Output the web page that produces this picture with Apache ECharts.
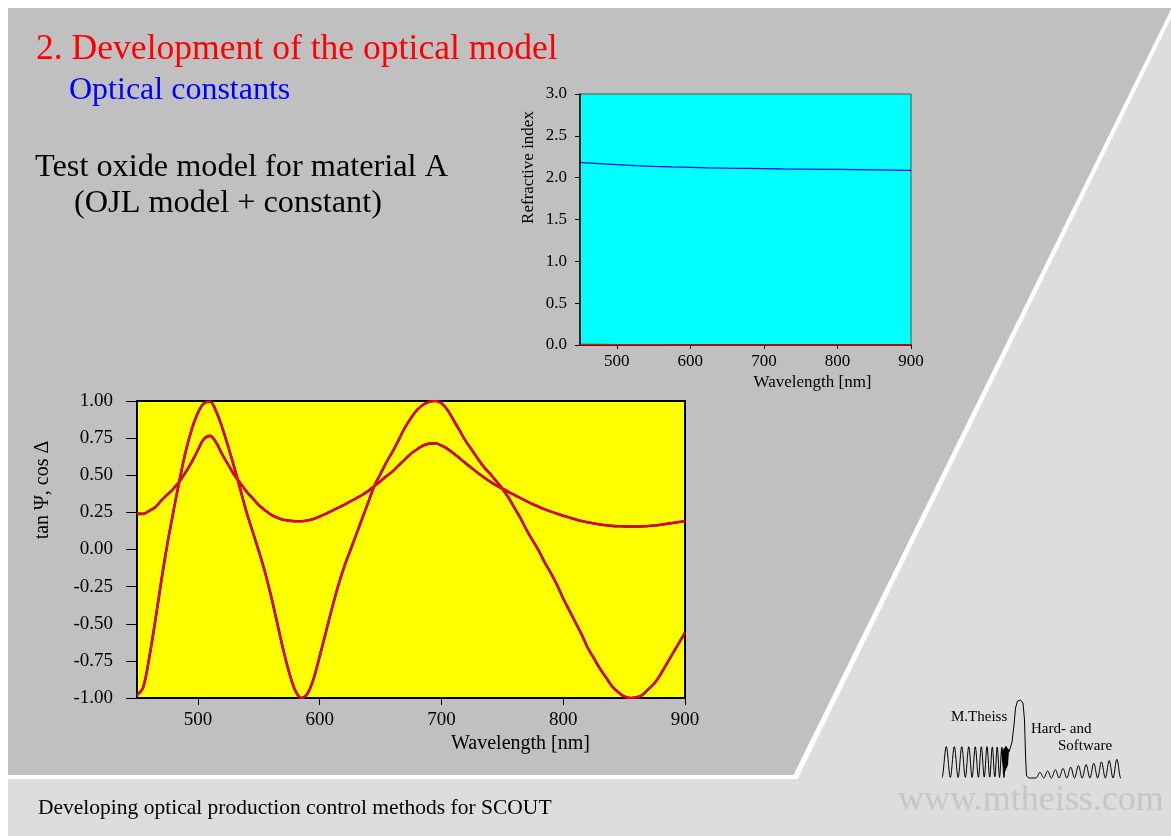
<!DOCTYPE html>
<html>
<head>
<meta charset="utf-8">
<script src="https://cdn.jsdelivr.net/npm/echarts@6/dist/echarts.min.js"></script>
<style>
  html, body { margin: 0; padding: 0; background: #ffffff; }
  #page { position: relative; width: 1171px; height: 836px; overflow: hidden; }
  .layer { position: absolute; left: 0; top: 0; width: 1171px; height: 836px; }
  #light { left: 8px; top: 8px; width: 1163px; height: 828px; background: #dddddd; }
  #band { background: #ffffff; clip-path: polygon(8px 8px, 1176px 8px, 797.5px 779px, 8px 779px); }
  #dark { background: #c0c0c0; clip-path: polygon(8px 8px, 1171.6px 8px, 793.5px 775px, 8px 775px); }
  #chart { position: absolute; left: 0; top: 0; width: 1171px; height: 836px; }
</style>
</head>
<body>
<div id="page">
  <div id="light" class="layer"></div>
  <div id="band" class="layer"></div>
  <div id="dark" class="layer"></div>
  <div id="chart"></div>
</div>
<script>
// ---- Optical constants of material A (OJL model + constant) ----
const nWavelengths = [450, 475, 500, 525, 550, 575, 600, 625, 650, 675, 700, 725, 750, 775, 800, 825, 850, 875, 900];
const refractiveIndex = [2.183, 2.169, 2.155, 2.145, 2.136, 2.129, 2.123, 2.117, 2.113, 2.111, 2.109, 2.105, 2.102, 2.100, 2.099, 2.096, 2.093, 2.090, 2.087];
const extinctionK = [0.006, 0.005, 0.004, 0.003, 0.002, 0.001, 0, 0, 0, 0, 0, 0, 0, 0, 0, 0, 0, 0, 0];
const nAxisLabels = [500, 600, 700, 800, 900];

// ---- Ellipsometric spectra: tan Psi and cos Delta, 450 ... 900 nm in 5 nm steps ----
const spectrumStart = 450, spectrumStep = 5;
const tanPsi = [
  0.24, 0.24, 0.26, 0.285, 0.33, 0.37, 0.41, 0.46, 0.52, 0.59,
  0.67, 0.745, 0.765, 0.72, 0.64, 0.57, 0.50, 0.445, 0.39, 0.345,
  0.30, 0.265, 0.235, 0.215, 0.20, 0.195, 0.19, 0.19, 0.195, 0.205,
  0.222, 0.24, 0.26, 0.28, 0.30, 0.323, 0.345, 0.368, 0.395, 0.428,
  0.46, 0.495, 0.527, 0.567, 0.607, 0.645, 0.675, 0.70, 0.713, 0.715,
  0.70, 0.678, 0.648, 0.614, 0.58, 0.547, 0.515, 0.485, 0.457, 0.432,
  0.41, 0.388, 0.367, 0.346, 0.325, 0.305, 0.287, 0.27, 0.255, 0.241,
  0.228, 0.215, 0.203, 0.192, 0.183, 0.175, 0.168, 0.163, 0.159, 0.157,
  0.156, 0.155, 0.155, 0.156, 0.158, 0.162, 0.167, 0.173, 0.179, 0.185,
  0.191
];
const cosDelta = [
  -0.98, -0.93, -0.73, -0.48, -0.21, 0.04, 0.26, 0.47, 0.66, 0.81,
  0.92, 0.985, 0.995, 0.93, 0.82, 0.69, 0.55, 0.40, 0.25, 0.12,
  -0.01, -0.15, -0.31, -0.49, -0.67, -0.83, -0.95, -1.0, -0.97, -0.87,
  -0.72, -0.56, -0.40, -0.25, -0.12, -0.01, 0.10, 0.21, 0.32, 0.43,
  0.51, 0.59, 0.66, 0.74, 0.82, 0.885, 0.94, 0.975, 0.995, 1.0,
  0.985, 0.94, 0.87, 0.80, 0.73, 0.67, 0.61, 0.555, 0.51, 0.46,
  0.41, 0.35, 0.28, 0.21, 0.13, 0.06, -0.01, -0.09, -0.16, -0.24,
  -0.33, -0.41, -0.49, -0.57, -0.66, -0.73, -0.80, -0.86, -0.92, -0.96,
  -0.99, -1.0, -0.995, -0.98, -0.94, -0.90, -0.84, -0.77, -0.70, -0.63,
  -0.56
];
const spectrumAxisLabels = [500, 600, 700, 800, 900];

const SERIF = '"Liberation Serif", "Times New Roman", "DejaVu Serif", serif';

function pairs(xs, ys) { return ys.map((v, i) => [xs[i], v]); }
const spectrumWl = tanPsi.map((_, i) => spectrumStart + i * spectrumStep);

// Logo waveform of the M.Theiss badge (decorative)
function logoWave() {
  const pts = [];
  let phase = 0, x = 942;
  while (x < 1007) {
    pts.push([x, 762 + 15.5 * Math.cos(phase)]);
    const period = 8.6 - (x - 942) * 0.07;
    x += 0.5;
    phase += 2 * Math.PI * 0.5 / period;
  }
  [[1009, 752], [1012, 742], [1014, 725], [1015.5, 708], [1017.5, 701], [1020.5, 700],
   [1023, 703], [1024.5, 720], [1025.5, 755], [1026.5, 776], [1029, 778], [1036, 778]]
    .forEach(p => pts.push(p));
  phase = 0; x = 1036;
  while (x <= 1121) {
    const amp = 2.5 + (x - 1036) * 0.085;
    pts.push([x, 778 - amp * (1 - Math.cos(phase))]);
    x += 0.5;
    phase += 2 * Math.PI * 0.5 / 7.7;
  }
  return pts;
}

function textEl(str, x, baseline, size, color) {
  return {
    type: 'text', silent: true,
    style: {
      text: str, x: x, y: baseline - 0.3 * size,
      font: size + 'px ' + SERIF, fill: color,
      align: 'left', verticalAlign: 'middle'
    }
  };
}

const axisBlack = { color: '#000000' };

const option = {
  animation: false,
  grid: [
    { left: 580, top: 94, width: 331, height: 251, show: true,
      backgroundColor: '#00ffff', borderColor: '#505050', borderWidth: 1 },
    { left: 137, top: 401, width: 548, height: 297, show: true,
      backgroundColor: '#ffff00', borderColor: '#000000', borderWidth: 2 }
  ],
  xAxis: [
    {
      gridIndex: 0, type: 'value', min: 450, max: 900,
      axisLine: { onZero: false, lineStyle: { color: '#000', width: 1.5 } },
      axisTick: { customValues: nAxisLabels, length: 4, lineStyle: axisBlack },
      axisLabel: { customValues: nAxisLabels, fontSize: 17, fontFamily: SERIF, color: '#000', margin: 8 },
      splitLine: { show: false },
      name: 'Wavelength [nm]', nameLocation: 'middle', nameGap: 29,
      nameTextStyle: { fontSize: 17, fontFamily: SERIF, color: '#000', padding: [0, 0, 0, 134] }
    },
    {
      gridIndex: 1, type: 'value', min: 450, max: 900,
      axisLine: { onZero: false, lineStyle: { color: '#000', width: 2 } },
      axisTick: { customValues: spectrumAxisLabels, length: 7, lineStyle: axisBlack },
      axisLabel: { customValues: spectrumAxisLabels, fontSize: 19, fontFamily: SERIF, color: '#000', margin: 13 },
      splitLine: { show: false },
      name: 'Wavelength [nm]', nameLocation: 'middle', nameGap: 36,
      nameTextStyle: { fontSize: 20, fontFamily: SERIF, color: '#000', padding: [0, 0, 0, 219] }
    }
  ],
  yAxis: [
    {
      gridIndex: 0, type: 'value', min: 0, max: 3, interval: 0.5,
      axisLine: { show: true, onZero: false, lineStyle: { color: '#000', width: 1.5 } },
      axisTick: { show: true, length: 5, lineStyle: axisBlack },
      axisLabel: { fontSize: 17, fontFamily: SERIF, color: '#000', margin: 13,
                   formatter: v => v.toFixed(1) },
      splitLine: { show: false },
      name: 'Refractive index', nameLocation: 'middle', nameGap: 43,
      nameTextStyle: { fontSize: 17, fontFamily: SERIF, color: '#000', padding: [0, 0, 0, 104] }
    },
    {
      gridIndex: 1, type: 'value', min: -1, max: 1, interval: 0.25,
      axisLine: { show: true, onZero: false, lineStyle: { color: '#000', width: 2 } },
      axisTick: { show: true, length: 11, lineStyle: axisBlack },
      axisLabel: { fontSize: 19, fontFamily: SERIF, color: '#000', margin: 24,
                   formatter: v => v.toFixed(2) },
      splitLine: { show: false },
      name: 'tan \u03A8, cos \u0394', nameLocation: 'middle', nameGap: 84,
      nameTextStyle: { fontSize: 20, fontFamily: SERIF, color: '#000', padding: [0, 0, 0, 119] }
    }
  ],
  series: [
    { name: 'n', type: 'line', xAxisIndex: 0, yAxisIndex: 0, symbol: 'none',
      data: pairs(nWavelengths, refractiveIndex), lineStyle: { color: '#0000ff', width: 1.3 } },
    { name: 'k', type: 'line', xAxisIndex: 0, yAxisIndex: 0, symbol: 'none',
      data: pairs(nWavelengths, extinctionK), lineStyle: { color: '#ff0000', width: 1.5 } },
    { name: 'tan \u03A8 measured', type: 'line', xAxisIndex: 1, yAxisIndex: 1, symbol: 'none', smooth: 0.35,
      data: pairs(spectrumWl, tanPsi), lineStyle: { color: '#0000ff', width: 2.6 } },
    { name: 'cos \u0394 measured', type: 'line', xAxisIndex: 1, yAxisIndex: 1, symbol: 'none', smooth: 0.35,
      data: pairs(spectrumWl, cosDelta), lineStyle: { color: '#0000ff', width: 2.6 } },
    { name: 'tan \u03A8 simulated', type: 'line', xAxisIndex: 1, yAxisIndex: 1, symbol: 'none', smooth: 0.35,
      data: pairs(spectrumWl, tanPsi), lineStyle: { color: '#ff0000', width: 2.1 } },
    { name: 'cos \u0394 simulated', type: 'line', xAxisIndex: 1, yAxisIndex: 1, symbol: 'none', smooth: 0.35,
      data: pairs(spectrumWl, cosDelta), lineStyle: { color: '#ff0000', width: 2.1 } }
  ],
  graphic: [
    textEl('2. Development of the optical model', 36, 60, 35.6, '#ff0000'),
    textEl('Optical constants', 69, 100, 32, '#0000ff'),
    textEl('Test oxide model for material A', 35, 177, 32.3, '#000000'),
    textEl('(OJL model + constant)', 74, 213, 32.3, '#000000'),
    textEl('Developing optical production control methods for SCOUT', 38, 815, 21.5, '#000000'),
    textEl('www.mtheiss.com', 898, 811, 36, '#c6c6c6'),
    textEl('M.Theiss', 951, 722, 15, '#000000'),
    textEl('Hard- and', 1031, 734, 15, '#000000'),
    textEl('Software', 1058, 751, 15, '#000000'),
    { type: 'polygon', silent: true,
      shape: { points: [[1001, 752], [1006, 746], [1009, 750], [1008, 765], [1004, 774]] },
      style: { fill: '#000000' } },
    { type: 'polyline', silent: true, shape: { points: logoWave() },
      style: { stroke: '#000000', lineWidth: 1, fill: null } }
  ]
};

const chart = echarts.init(document.getElementById('chart'), null, { renderer: 'canvas' });
chart.setOption(option);
</script>
</body>
</html>
